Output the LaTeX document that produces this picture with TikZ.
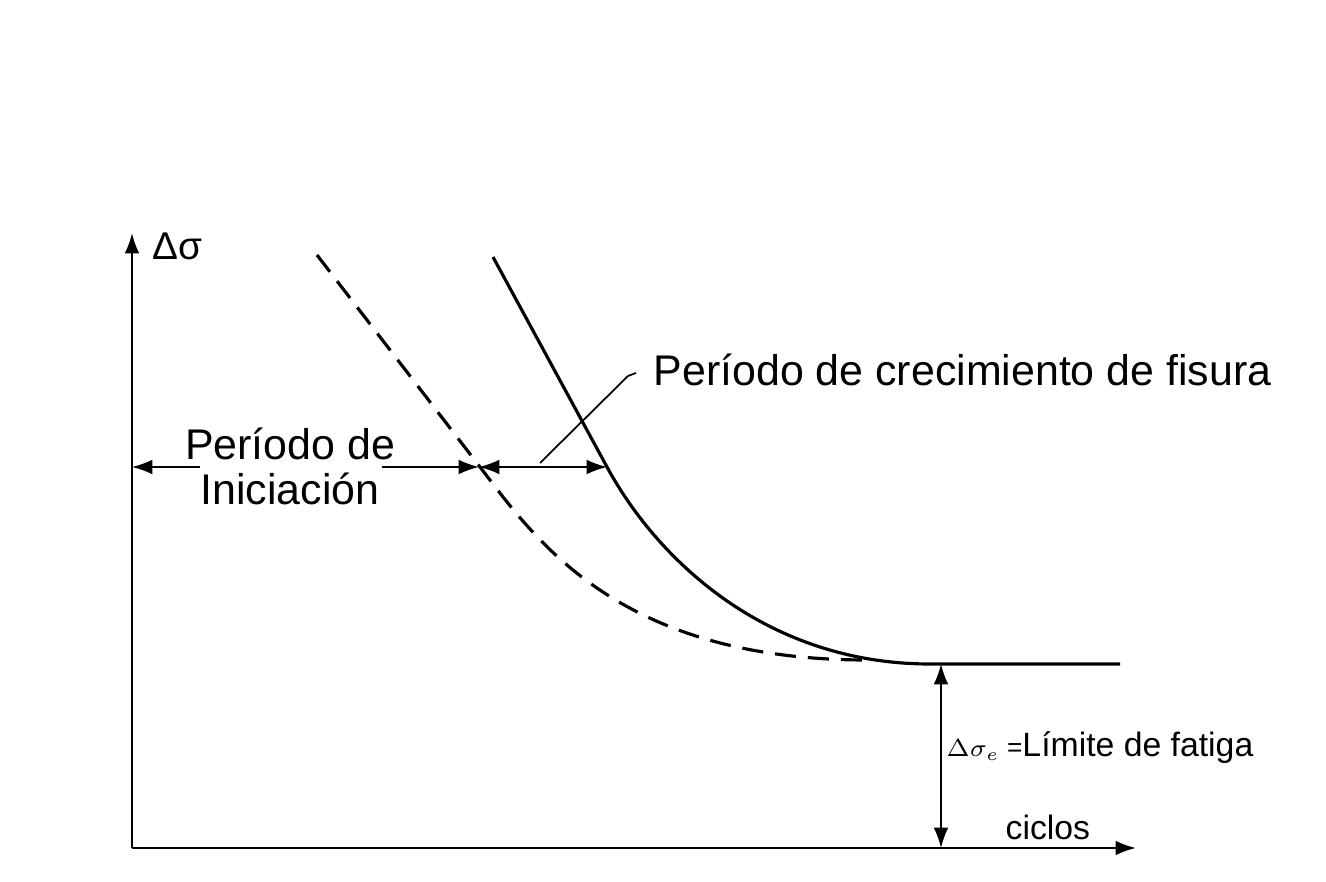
\documentclass[tikz,border=0pt]{standalone}
\usepackage{fontspec}
\setmainfont{Liberation Sans}
\usetikzlibrary{arrows.meta}
\begin{document}
\begin{tikzpicture}[x=0.01cm, y=-0.01cm, >={Latex[length=5.8pt,width=4.2pt]},
    curve/.style={line width=0.9pt},
    axis/.style={->, line width=0.6pt},
    big/.style={font=\fontsize{12.2}{12.8}\selectfont},
    small/.style={font=\fontsize{9.6}{11}\selectfont}]
\useasboundingbox (0,0) rectangle (1326,882);
% ejes
\coordinate (O) at (132,848);
\coordinate (ytop) at (132,233);
\coordinate (xend) at (1136,848);
\draw[axis] (O)--(ytop);
\draw[axis] (O)--(xend);
\node[anchor=west, inner sep=0pt, font=\fontsize{11}{13}\selectfont] (ds) at (152,246) {Δσ};
\node[small, anchor=base west, inner sep=0pt] (ciclos) at (1005,840) {ciclos};

% curvas
\draw[curve] (493,257)--(607,467) .. controls (659.5,563.7) and (770,664) .. (930,664)--(1120,664);
\draw[curve, dash pattern=on 6pt off 3.4pt] (317,255)--(480,467) .. controls (534.8,538.4) and (617,660) .. (867,660);

% periodos
\coordinate (a0) at (132,467);
\coordinate (l1) at (200,467);
\coordinate (r1) at (382,467);
\coordinate (d1) at (479,467);
\coordinate (s1) at (607,467);
\node[big, align=center, inner sep=0pt] (ini) at (290,466) {Período de\\Iniciación};
\draw[->, line width=0.5pt] (l1)--(a0);
\draw[->, line width=0.5pt] (r1)--(d1);
\draw[<->, line width=0.5pt] (d1)--(s1);

\coordinate (g1) at (540,463);
\coordinate (g2) at (628,376);
\coordinate (g3) at (636,373);
\draw[line width=0.5pt] (g1)--(g2)--(g3);
\node[big, anchor=base west, inner sep=0pt] (crec) at (653,386) {Período de crecimiento de fisura};

% limite de fatiga
\coordinate (lim) at (941,664);
\coordinate (limO) at (941,848);
\draw[<->, line width=0.5pt] (lim)--(limO);
\node[small, anchor=base west, inner sep=0pt] (fat) at (946,757) {{\fontsize{7.5}{9}\selectfont$\Delta\sigma_e$ =}Límite de fatiga};

\end{tikzpicture}
\end{document}
